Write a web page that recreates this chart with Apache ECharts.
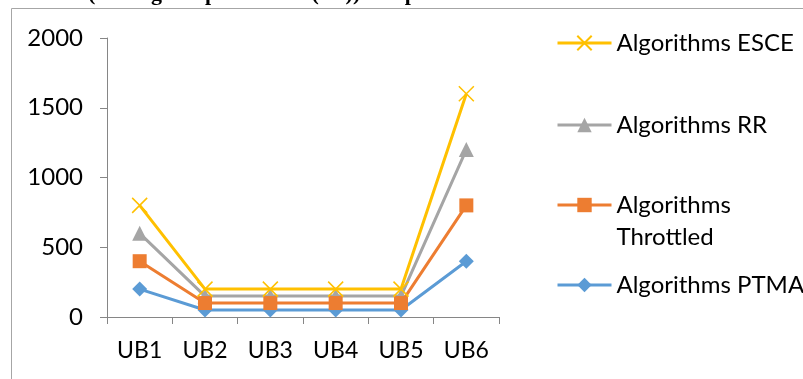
<!DOCTYPE html>
<html>
<head>
<meta charset="utf-8">
<script src="https://cdn.jsdelivr.net/npm/echarts@6/dist/echarts.min.js"></script>
<style>html,body{margin:0;padding:0;background:#fff}#c{width:803px;height:379px}</style>
</head>
<body>
<div id="c"></div>
<script>
const categories = ['UB1', 'UB2', 'UB3', 'UB4', 'UB5', 'UB6'];
const esce = [800, 200, 200, 200, 200, 1600];
const rr = [600, 150, 150, 150, 150, 1200];
const throttled = [400, 100, 100, 100, 100, 800];
const ptma = [200, 50, 50, 50, 50, 400];
const yTicks = [0, 500, 1000, 1500, 2000];
const titleText = '(Average response time (ms)) comparison';

const FONT = 'Lato';
const FS = 24;
const chart = echarts.init(document.getElementById('c'));
const crossPath = 'path://M0,0L10,10M10,0L0,10';
function legendFor(name, top, extra) {
  return Object.assign({
    orient: 'vertical', left: 556, top: top, itemWidth: 54, itemHeight: 18, itemGap: 0,
    padding: 0, data: [name],
    lineStyle: { width: 3 },
    textStyle: { fontFamily: FONT, fontSize: FS, color: '#000', lineHeight: 32 }
  }, extra || {});
}
chart.setOption({
  animation: false,
  graphic: [
    { type: 'rect', shape: { x: 11.5, y: 8.5, width: 900, height: 500 }, style: { fill: 'none', stroke: '#a6a6a6', lineWidth: 1 }, silent: true },
    { type: 'text', left: 88, top: -17, style: { text: titleText, font: 'bold 22px "Liberation Serif"', fill: '#000' } }
  ],
  grid: { left: 107, right: 304, top: 38, bottom: 62 },
  legend: [
    legendFor('Algorithms ESCE', 43 - 16),
    legendFor('Algorithms RR', 125 - 16),
    legendFor('Algorithms Throttled', 205 - 48, {
      formatter: () => ' \nAlgorithms\nThrottled'
    }),
    legendFor('Algorithms PTMA', 285 - 16)
  ],
  xAxis: {
    type: 'category', data: categories, boundaryGap: true,
    axisLine: { lineStyle: { color: '#868686', width: 1 } },
    axisTick: { show: true, length: 7, alignWithLabel: false, lineStyle: { color: '#868686' } },
    axisLabel: { fontFamily: FONT, fontSize: 23, color: '#000', margin: 22 }
  },
  yAxis: {
    type: 'value', min: yTicks[0], max: yTicks[yTicks.length - 1], interval: 500,
    splitLine: { show: false },
    axisLine: { show: true, lineStyle: { color: '#868686', width: 1 } },
    axisTick: { show: true, length: 7, lineStyle: { color: '#868686' } },
    axisLabel: { fontFamily: FONT, fontSize: FS, color: '#000', margin: 24, formatter: v => String(v) }
  },
  series: [
    { name: 'Algorithms ESCE', type: 'line', data: esce, z: 5, symbol: crossPath, symbolSize: 15,
      lineStyle: { color: '#FFC000', width: 3 },
      itemStyle: { color: '#FFC000', borderColor: '#FFC000', borderWidth: 1.5 } },
    { name: 'Algorithms RR', type: 'line', data: rr, z: 3, symbol: 'triangle', symbolSize: 15,
      lineStyle: { color: '#A5A5A5', width: 3 }, itemStyle: { color: '#A5A5A5' } },
    { name: 'Algorithms Throttled', type: 'line', data: throttled, z: 4, symbol: 'rect', symbolSize: 14,
      lineStyle: { color: '#ED7D31', width: 3 }, itemStyle: { color: '#ED7D31' } },
    { name: 'Algorithms PTMA', type: 'line', data: ptma, z: 2, symbol: 'diamond', symbolSize: 15,
      lineStyle: { color: '#5B9BD5', width: 3 }, itemStyle: { color: '#5B9BD5' } }
  ]
});
</script>
</body>
</html>
